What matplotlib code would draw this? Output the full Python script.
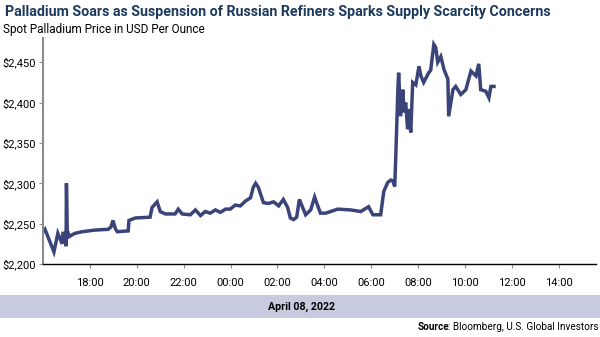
import matplotlib
matplotlib.use("Agg")
import matplotlib.pyplot as plt
import matplotlib.dates as mdates
from datetime import datetime, timedelta

title = "Palladium Soars as Suspension of Russian Refiners Sparks Supply Scarcity Concerns"
subtitle = "Spot Palladium Price in USD Per Ounce"
date_label = "April 08, 2022"
source_bold = "Source"
source_rest = ": Bloomberg, U.S. Global Investors"

times = ["16:00", "16:05", "16:28", "16:38", "16:49", "16:51", "16:56", "16:59", "17:00", "17:02",
         "17:07", "17:14", "17:22", "17:40", "18:13", "18:47", "18:54", "18:59", "19:05", "19:10",
         "19:38", "19:40", "19:56", "20:34", "20:39", "20:52", "21:00", "21:13", "21:38", "21:46",
         "21:56", "22:17", "22:30", "22:43", "22:55", "23:08", "23:21", "23:34", "23:47", "23:59",
         "00:12", "00:25", "00:38", "00:51", "00:58", "01:04", "01:11", "01:24", "01:37", "01:50",
         "02:03", "02:15", "02:26", "02:33", "02:41", "02:49", "02:56", "03:12", "03:25", "03:35",
         "03:43", "03:50", "04:03", "04:16", "04:34", "05:07", "05:33", "05:53", "06:04", "06:24",
         "06:32", "06:42", "06:50", "06:55", "07:00", "07:03", "07:08", "07:10", "07:15", "07:21",
         "07:23", "07:28", "07:33", "07:36", "07:41", "07:46", "07:54", "08:02", "08:07", "08:14",
         "08:27", "08:32", "08:40", "08:45", "08:50", "08:58", "09:06", "09:16", "09:18", "09:29",
         "09:36", "09:49", "10:02", "10:15", "10:28", "10:35", "10:40", "10:53", "11:01", "11:06",
         "11:14"]
prices = [2240, 2243, 2215, 2238, 2225, 2238, 2238, 2222, 2300, 2242,
          2234, 2236, 2238, 2240, 2242, 2243, 2246, 2254, 2244, 2240,
          2241, 2254, 2257, 2258, 2270, 2277, 2265, 2262, 2262, 2268,
          2262, 2261, 2267, 2260, 2265, 2263, 2267, 2264, 2268, 2268,
          2273, 2272, 2278, 2282, 2295, 2300, 2295, 2276, 2275, 2277,
          2272, 2280, 2270, 2257, 2255, 2258, 2280, 2261, 2267, 2283,
          2272, 2263, 2263, 2265, 2268, 2267, 2265, 2271, 2261, 2261,
          2290, 2301, 2304, 2303, 2296, 2338, 2416, 2437, 2383, 2416,
          2388, 2400, 2367, 2392, 2363, 2425, 2422, 2445, 2433, 2425,
          2437, 2440, 2472, 2468, 2450, 2457, 2441, 2429, 2383, 2416,
          2420, 2410, 2416, 2439, 2433, 2448, 2416, 2414, 2406, 2420,
          2420]

y_ticks = [2200, 2250, 2300, 2350, 2400, 2450]

def to_dt(s):
    h, m = map(int, s.split(":"))
    day = 7 if h >= 16 else 8
    return datetime(2022, 4, day, h, m)

xs = [to_dt(t) for t in times]

FONT = "Roboto"
W, H = 600, 337
fig = plt.figure(figsize=(W/100, H/100), dpi=100)
renderer = fig.canvas.get_renderer()
ax = fig.add_axes([43/W, 1-264/H, (596-43)/W, (264-38)/H])

navy = "#3b4478"
ax.plot(xs, prices, color=navy, lw=2.5, solid_joinstyle="miter")

ax.set_xlim(datetime(2022, 4, 7, 16, 0), datetime(2022, 4, 8, 15, 35))
ax.set_ylim(2200, 2480)
ax.set_yticks(y_ticks)
ax.set_yticklabels([f"${v:,}" for v in y_ticks])
tick_dt = [datetime(2022, 4, 7, 18) + timedelta(hours=2*i) for i in range(11)]
ax.set_xticks(tick_dt)
ax.xaxis.set_major_formatter(mdates.DateFormatter("%H:%M"))

for s in ["top", "right"]:
    ax.spines[s].set_visible(False)
ax.spines["left"].set_color("#8c8c8c")
ax.spines["left"].set_linewidth(1.5)
ax.spines["bottom"].set_color("#000000")
ax.spines["bottom"].set_linewidth(1.0)
ax.tick_params(axis="y", length=3, width=0.8, color="#8c8c8c", labelsize=8, pad=2)
ax.tick_params(axis="x", length=3, width=0.8, color="#8c8c8c", labelsize=8, pad=7)
for lab in ax.get_xticklabels() + ax.get_yticklabels():
    lab.set_fontfamily(FONT)


def fit_text(x, y, s, width_px, base=10, **kw):
    t = fig.text(x/W, 1-y/H, s, fontsize=base, family=FONT, va="center", **kw)
    w = t.get_window_extent(renderer=renderer).width
    t.set_fontsize(base*width_px/w)
    return t

fit_text(5, 12, title, 545, fontweight="bold", color="#1d3a5c", ha="left")
fit_text(3, 30, subtitle, 202, color="#000000", ha="left")

band = plt.Rectangle((0, 1-318/H), 1, 23/H, transform=fig.transFigure,
                     facecolor="#c8cadf", edgecolor="none")
fig.patches.append(band)
fit_text(301, 306.5, date_label, 67, fontweight="bold", color="#000000", ha="center")

t2 = fit_text(598, 327, source_rest, 150, color="#000000", ha="right")
bb = t2.get_window_extent(renderer=renderer)
fig.text((bb.x0 + 1.5)/W, 1-327/H, source_bold, fontsize=t2.get_fontsize(), fontweight="bold",
         color="#000000", family=FONT, ha="right", va="center")

fig.savefig("out.png", dpi=100)
